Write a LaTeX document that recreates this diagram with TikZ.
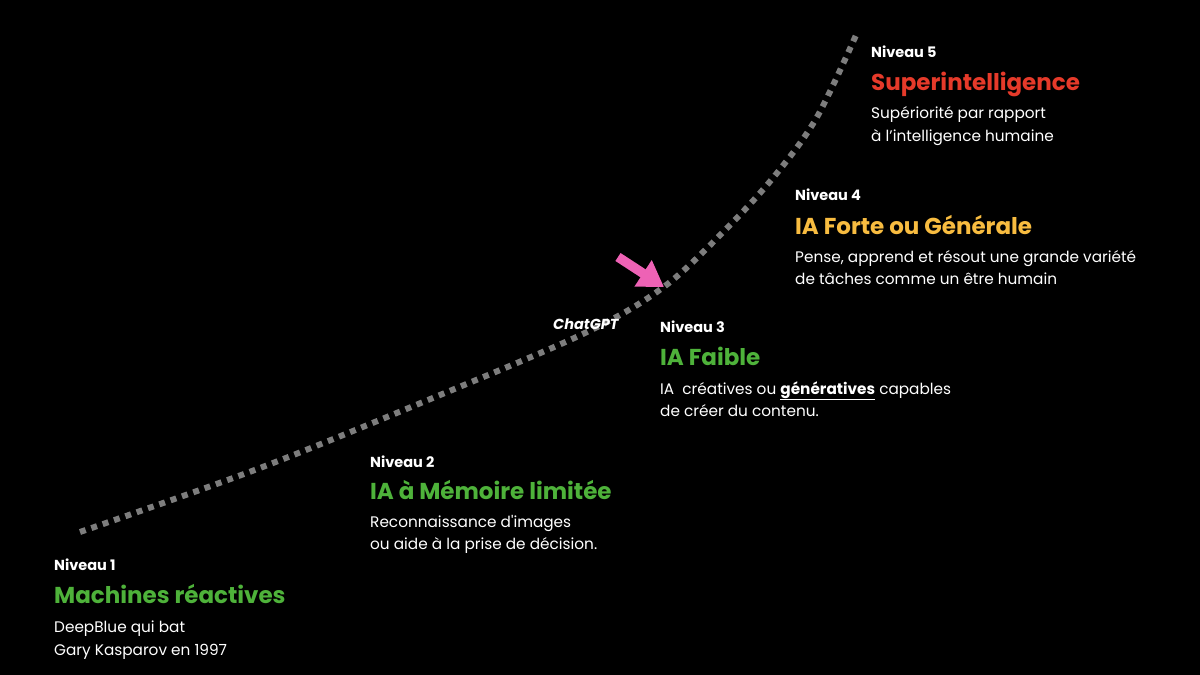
\documentclass[tikz,border=0pt]{standalone}
\usepackage{fontspec}
\setmainfont{Poppins}
\usetikzlibrary{arrows.meta}
\definecolor{lvgreen}{RGB}{78,178,58}
\definecolor{lvyellow}{RGB}{248,188,64}
\definecolor{lvred}{RGB}{230,58,42}
\definecolor{dotgray}{RGB}{125,125,125}
\definecolor{arrowpink}{RGB}{238,98,181}
\tikzset{
  lvl/.style={anchor=base west, inner sep=0pt, text=white, font=\fontsize{14.5}{17}\selectfont\bfseries},
  ttl/.style={anchor=base west, inner sep=0pt, font=\fontsize{23}{28}\selectfont\bfseries},
  bdy/.style={anchor=base west, inner sep=0pt, text=white, font=\fontsize{15.3}{20}\selectfont},
  curve/.style={draw=dotgray, line width=6pt, dash pattern=on 6pt off 6pt},
}
\begin{document}
\begin{tikzpicture}[x=1pt,y=-1pt]
\fill[black] (0,0) rectangle (1200,675);
\useasboundingbox (0,0) rectangle (1200,675);

% dotted growth curve
\draw[curve] plot[smooth, tension=0.55] coordinates {(80,532) (260,468) (440,395) (587,332) (665,286) (730,225) (777,173) (817,117) (857,33)};

% pink arrow
\coordinate (atail) at (618,257);
\coordinate (atip) at (664,287);
\draw[arrowpink, line width=9.5pt, -{Triangle[length=25pt,width=30pt]}] (atail) -- (atip);

\node[anchor=base west, inner sep=0pt, text=white, font=\fontsize{14.5}{17}\selectfont\bfseries\itshape] (chat) at (553,329) {ChatGPT};

% Niveau 1
\node[lvl] (n1) at (54,570) {Niveau 1};
\node[ttl, text=lvgreen] (t1) at (54,603) {Machines réactives};
\node[bdy] (b1a) at (54,632) {DeepBlue qui bat};
\node[bdy] (b1b) at (54,655) {Gary Kasparov en 1997};

% Niveau 2
\node[lvl] (n2) at (370,467) {Niveau 2};
\node[ttl, text=lvgreen] (t2) at (370,499) {IA à Mémoire limitée};
\node[bdy] (b2a) at (370,527) {Reconnaissance d\textquotesingle images};
\node[bdy] (b2b) at (370,549) {ou aide à la prise de décision.};

% Niveau 3
\node[lvl] (n3) at (660,332) {Niveau 3};
\node[ttl, text=lvgreen] (t3) at (660,365) {IA Faible};
\node[bdy] (b3a) at (660,394) {IA\ \ créatives ou \underline{\textbf{génératives}} capables};
\node[bdy] (b3b) at (660,416) {de créer du contenu.};

% Niveau 4
\node[lvl] (n4) at (795,200) {Niveau 4};
\node[ttl, text=lvyellow] (t4) at (795,234) {IA Forte ou Générale};
\node[bdy] (b4a) at (795,262) {Pense, apprend et résout une grande variété};
\node[bdy] (b4b) at (795,284) {de tâches comme un être humain};

% Niveau 5
\node[lvl] (n5) at (871,57) {Niveau 5};
\node[ttl, text=lvred] (t5) at (871,90) {Superintelligence};
\node[bdy] (b5a) at (871,118) {Supériorité par rapport};
\node[bdy] (b5b) at (871,141) {à l’intelligence humaine};
\end{tikzpicture}
\end{document}
